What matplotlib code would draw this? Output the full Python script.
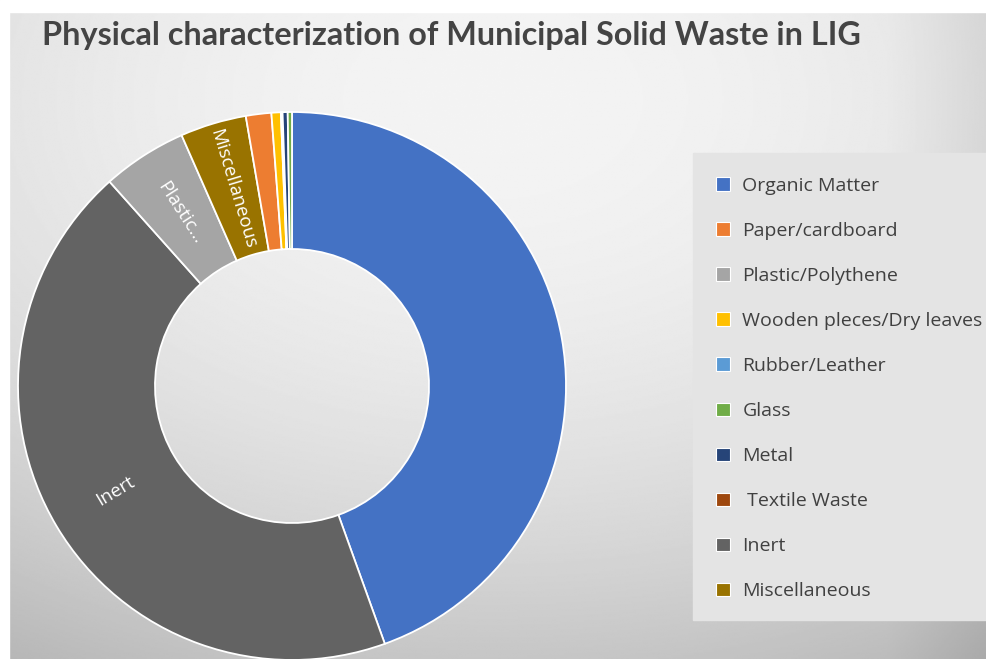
import numpy as np
import matplotlib.pyplot as plt
from matplotlib.patches import Patch, Rectangle

# slices in drawing order (clockwise from 12 o'clock)
slices = ['Organic Matter', 'Inert', 'Plastic/Polythene', 'Miscellaneous', 'Paper/cardboard',
          'Wooden pleces/Dry leaves', ' Textile Waste', 'Rubber/Leather', 'Metal', 'Glass']
values = [44.5, 43.9, 5.0, 3.9, 1.5, 0.55, 0.05, 0.05, 0.3, 0.25]

# legend order as in the source chart
legend_order = ['Organic Matter', 'Paper/cardboard', 'Plastic/Polythene', 'Wooden pleces/Dry leaves',
                'Rubber/Leather', 'Glass', 'Metal', ' Textile Waste', 'Inert', 'Miscellaneous']
colors = {
    'Organic Matter': '#4472C4',
    'Paper/cardboard': '#ED7D31',
    'Plastic/Polythene': '#A5A5A5',
    'Wooden pleces/Dry leaves': '#FFC000',
    'Rubber/Leather': '#5B9BD5',
    'Glass': '#70AD47',
    'Metal': '#264478',
    ' Textile Waste': '#9E480E',
    'Inert': '#636363',
    'Miscellaneous': '#997300',
}
# labels drawn inside the ring
inner_labels = {'Inert': 'Inert', 'Plastic/Polythene': 'Plastic…', 'Miscellaneous': 'Miscellaneous'}

W, H = 986, 659
fig = plt.figure(figsize=(W / 100, H / 100), dpi=100)

# soft grey gradient background
bg = fig.add_axes([0, 0, 1, 1])
yy, xx = np.mgrid[0:1:400j, 0:1:600j]
d2 = ((xx - 0.5) / 0.9) ** 2 + ((yy - 0.15) / 0.9) ** 2
shade = 0.955 - 0.2 * d2
shade -= np.clip(xx - 0.9, 0, None) * 0.5
bg.imshow(shade, cmap='gray', vmin=0, vmax=1, extent=[0, 1, 0, 1], aspect='auto',
          origin='upper', interpolation='bilinear')
bg.axis('off')
# white outer border
fig.patches.append(Rectangle((0, 1 - 12 / H), 1, 12 / H, transform=fig.transFigure,
                             color='white', zorder=5))
fig.patches.append(Rectangle((0, 0), 9 / W, 1, transform=fig.transFigure,
                             color='white', zorder=5))
# legend panel
fig.patches.append(Rectangle((693 / W, 1 - 620 / H), 1, (620 - 153) / H, transform=fig.transFigure,
                             color='#e4e4e4', zorder=1))

ax = fig.add_axes([18 / W, (H - 386 - 274) / H, 548 / W, 548 / H])
wedges, _ = ax.pie(values, colors=[colors[s] for s in slices], startangle=90, counterclock=False,
                   radius=1, wedgeprops=dict(width=0.5, edgecolor='white', linewidth=1.3))
ax.set_xlim(-1, 1)
ax.set_ylim(-1, 1)
ax.set_aspect('equal')
ax.axis('off')

for w, name in zip(wedges, slices):
    if name not in inner_labels:
        continue
    mid = np.deg2rad((w.theta1 + w.theta2) / 2)
    r = 0.75
    x, y = r * np.cos(mid), r * np.sin(mid)
    rot = np.rad2deg(np.arctan2(-y, -x))
    if rot > 90:
        rot -= 180
    elif rot < -90:
        rot += 180
    ax.text(x, y, inner_labels[name], rotation=rot, ha='center', va='center',
            color='white', fontsize=13.5, family='Open Sans', rotation_mode='anchor')

fig.text(42 / W, 1 - 35 / H, 'Physical characterization of Municipal Solid Waste in LIG',
         fontsize=23.3, fontweight='bold', color='#444444', va='center', ha='left',
         family='Lato', zorder=6)

handles = [Patch(facecolor=colors[n], edgecolor='white', linewidth=0.8) for n in legend_order]
leg = fig.legend(handles, legend_order, loc='upper left',
                 bbox_to_anchor=(716 / W, 1 - 177 / H), frameon=False,
                 prop={'family': 'Open Sans', 'size': 14}, labelcolor='#404040',
                 handlelength=0.7, handleheight=0.7, handletextpad=0.65,
                 labelspacing=1.39, borderpad=0, borderaxespad=0)
leg.set_zorder(3)

fig.savefig('out.png', dpi=100)
